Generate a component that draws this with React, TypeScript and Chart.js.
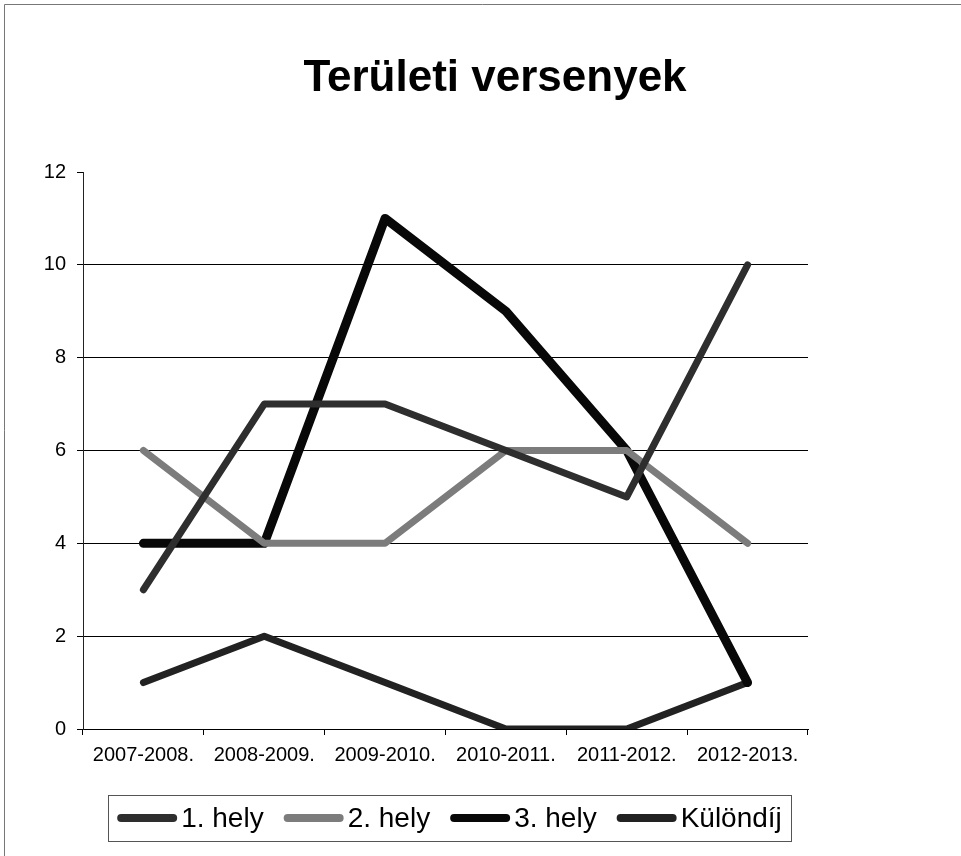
import React, { useEffect, useRef } from "react";
import { Chart, registerables } from "chart.js";

Chart.register(...registerables);

const titleText = "Területi versenyek";
const categories = ["2007-2008.", "2008-2009.", "2009-2010.", "2010-2011.", "2011-2012.", "2012-2013."];
const seriesNames = ["1. hely", "2. hely", "3. hely", "Különdíj"];
const hely1 = [3, 7, 7, 6, 5, 10];
const hely2 = [6, 4, 4, 6, 6, 4];
const hely3 = [4, 4, 11, 9, 6, 1];
const kulondij = [1, 2, 1, 0, 0, 1];
const yMin = 0;
const yMax = 12;
const yStep = 2;

const FONT = "'Liberation Sans', Arial, sans-serif";

const framePlugin = {
  id: "frame",
  beforeDraw(chart: any) {
    const { ctx, width, height } = chart;
    ctx.save();
    ctx.fillStyle = "#fff";
    ctx.fillRect(0, 0, width, height);
    ctx.strokeStyle = "#777";
    ctx.lineWidth = 1;
    ctx.beginPath();
    ctx.moveTo(4.5, height);
    ctx.lineTo(4.5, 4.5);
    ctx.lineTo(width, 4.5);
    ctx.stroke();
    ctx.restore();
  },
};

const titlePlugin = {
  id: "excelTitle",
  afterDraw(chart: any) {
    const { ctx } = chart;
    ctx.save();
    ctx.font = `bold 44px ${FONT}`;
    ctx.fillStyle = "#000";
    ctx.textAlign = "center";
    ctx.textBaseline = "middle";
    ctx.fillText(titleText, 495, 79);
    ctx.restore();
  },
};

const legendPlugin = {
  id: "excelLegend",
  afterDraw(chart: any) {
    const { ctx, chartArea } = chart;
    const datasets = chart.data.datasets;
    ctx.save();
    ctx.font = `28px ${FONT}`;
    const markerW = 60;
    const gapMT = 4;
    const itemGap = 20;
    const padX = 9;
    const widths = datasets.map((d: any) => ctx.measureText(d.label).width);
    let total = 0;
    widths.forEach((w: number, i: number) => {
      total += markerW + gapMT + w + (i > 0 ? itemGap : 0);
    });
    const cx = (chartArea.left + chartArea.right) / 2 + 4;
    let x = cx - total / 2;
    const y = 818;
    ctx.strokeStyle = "#555";
    ctx.lineWidth = 1;
    ctx.strokeRect(Math.round(x - padX) + 0.5, 795.5, Math.round(total + 2 * padX), 46);
    datasets.forEach((d: any, i: number) => {
      ctx.strokeStyle = d.borderColor;
      ctx.lineWidth = 8;
      ctx.lineCap = "round";
      ctx.beginPath();
      ctx.moveTo(x + 4, y);
      ctx.lineTo(x + markerW - 4, y);
      ctx.stroke();
      ctx.fillStyle = "#000";
      ctx.textAlign = "left";
      ctx.textBaseline = "middle";
      ctx.fillText(d.label, x + markerW + gapMT, y + 1);
      x += markerW + gapMT + widths[i] + itemGap;
    });
    ctx.restore();
  },
};

export default function App() {
  const canvasRef = useRef<HTMLCanvasElement | null>(null);

  useEffect(() => {
    if (!canvasRef.current) return;
    const lineDefaults = {
      pointRadius: 0,
      pointHoverRadius: 0,
      tension: 0,
      borderCapStyle: "round" as const,
      borderJoinStyle: "round" as const,
      fill: false,
    };
    const chart = new Chart(canvasRef.current, {
      type: "line",
      data: {
        labels: categories,
        datasets: [
          { label: seriesNames[0], data: hely1, borderColor: "#2e2e2e", borderWidth: 7, ...lineDefaults },
          { label: seriesNames[1], data: hely2, borderColor: "#7c7c7c", borderWidth: 7, ...lineDefaults },
          { label: seriesNames[2], data: hely3, borderColor: "#080808", borderWidth: 9, ...lineDefaults },
          { label: seriesNames[3], data: kulondij, borderColor: "#222222", borderWidth: 7, ...lineDefaults },
        ],
      },
      options: {
        responsive: false,
        animation: false,
        events: [],
        layout: { padding: { top: 172, right: 153, left: 0, bottom: 77 } },
        plugins: {
          legend: { display: false },
          title: { display: false },
          tooltip: { enabled: false },
        },
        scales: {
          x: {
            type: "category",
            offset: true,
            grid: {
              offset: true,
              drawOnChartArea: false,
              drawTicks: true,
              tickLength: 6,
              color: "#000",
            },
            border: { display: true, color: "#000", width: 1 },
            ticks: {
              color: "#000",
              font: { family: FONT, size: 20 },
              padding: 8,
              maxRotation: 0,
              autoSkip: false,
            },
            afterFit(scale: any) {
              scale.height = 50;
            },
          },
          y: {
            min: yMin,
            max: yMax,
            ticks: {
              stepSize: yStep,
              color: "#000",
              font: { family: FONT, size: 20 },
              padding: 11,
            },
            grid: {
              drawTicks: true,
              tickLength: 6,
              color: (c: any) => (c.tick && c.tick.value === yMax ? "rgba(0,0,0,0)" : "#000"),
              tickColor: "#000",
              lineWidth: 1,
            },
            border: { display: true, color: "#222", width: 1 },
            afterFit(scale: any) {
              scale.width = 83;
            },
          },
        },
      },
      plugins: [framePlugin, titlePlugin, legendPlugin],
    });
    return () => chart.destroy();
  }, []);

  return (
    <div style={{ position: "fixed", left: 0, top: 0, width: 961, height: 856, background: "#fff" }}>
      <canvas ref={canvasRef} width={961} height={856} style={{ display: "block", width: 961, height: 856 }} />
    </div>
  );
}
